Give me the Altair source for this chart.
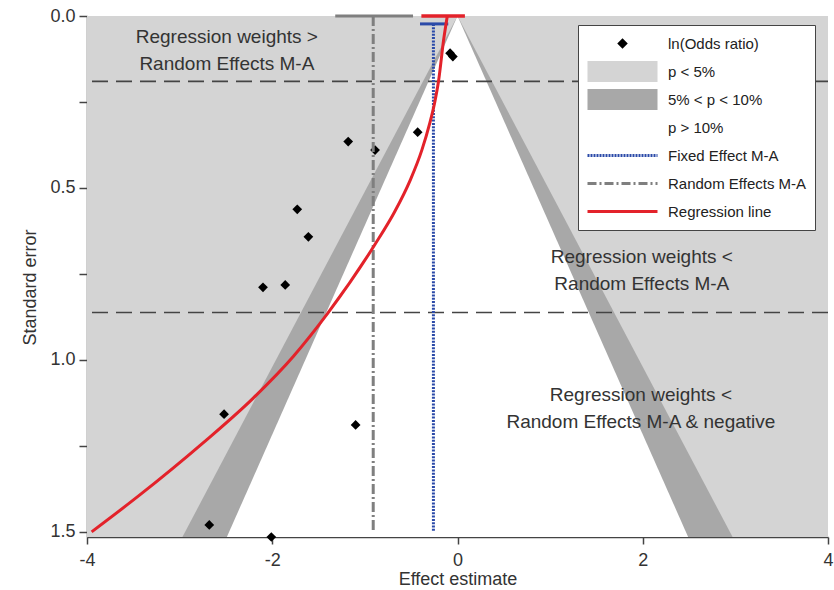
import altair as alt
import pandas as pd

# ---------------- data ----------------
x_domain = [-4, 4]
se_domain = [0, 1.515]
x_ticks = [-4, -2, 0, 2, 4]
se_ticks = [0, 0.25, 0.5, 0.75, 1.0, 1.25, 1.5]

# contour bounds of the funnel (half-widths at the top and bottom SE)
funnel_se = [0.0, 1.515]
half_p10 = [0.0, 2.49]
half_p05 = [0.0, 2.97]

# individual studies
study_effect = [-0.08, -0.05, -0.43, -1.18, -0.89, -1.73, -1.61, -1.86, -2.10, -2.52, -1.10, -2.68, -2.01]
study_se = [0.108, 0.118, 0.338, 0.365, 0.390, 0.562, 0.642, 0.782, 0.789, 1.158, 1.189, 1.480, 1.515]

# pooled estimates
fe_est = -0.26
fe_ci = [-0.405, -0.10]
fe_se_top = 0.023
re_est = -0.91
re_ci = [-1.32, -0.48]
reg_ci = [-0.39, 0.08]
line_bottom = 1.5

# regression line
reg_se = [0.0, 0.07, 0.19, 0.25, 0.312, 0.39, 0.477, 0.57, 0.666, 0.864, 0.99, 1.111, 1.242, 1.397, 1.5]
reg_effect = [-0.11, -0.15, -0.205, -0.245, -0.30, -0.385, -0.51, -0.68, -0.895, -1.40, -1.773, -2.205, -2.75, -3.45, -3.95]

# horizontal cut lines
cut_se = [0.19, 0.862]

# annotations (position of the first line of each note)
note_text = ["Regression weights >\nRandom Effects M-A",
             "Regression weights <\nRandom Effects M-A",
             "Regression weights <\nRandom Effects M-A & negative"]
note_x = [-2.49, 1.99, 1.98]
note_se = [0.061, 0.700, 1.102]

legend_labels = ["ln(Odds ratio)", "p < 5%", "5% < p < 10%", "p > 10%",
                 "Fixed Effect M-A", "Random Effects M-A", "Regression line"]

# ---------------- styles ----------------
LIGHT = "#d4d4d4"
DARK = "#a8a8a8"
BLUE = "#2b4aa8"
GRAY = "#7f7f7f"
RED = "#e3222a"
FONT = "Liberation Sans"
TXT = "#333333"

xs = alt.Scale(domain=x_domain, nice=False, zero=False)
ys = alt.Scale(domain=se_domain, reverse=True, nice=False, zero=False)

x_axis = alt.Axis(values=x_ticks, labelExpr="'' + datum.value", tickSize=7, tickWidth=1.5,
                  domainWidth=1.5, domainColor="#444", tickColor="#444",
                  labelFontSize=18, labelFont=FONT, labelColor=TXT, labelPadding=7,
                  labelFlush=False, titleFontSize=18, titleFont=FONT, titleColor=TXT,
                  titleFontWeight="normal", titleY=42, titleBaseline="middle", grid=False)
y_axis = alt.Axis(values=se_ticks,
                  labelExpr="datum.value % 0.5 == 0 ? format(datum.value, '.1f') : ''",
                  tickSize=8, tickWidth=1.5, domainWidth=1.5, domainColor="#444", tickColor="#444",
                  labelFontSize=18, labelFont=FONT, labelColor=TXT, labelPadding=4,
                  labelFlush=False, titleFontSize=18, titleFont=FONT, titleColor=TXT,
                  titleFontWeight="normal", titleX=-57, titleY=271, titleBaseline="middle", grid=False)


def X(f):
    return alt.X(f, type="quantitative", scale=xs, axis=x_axis, title="Effect estimate")


def Y(f):
    return alt.Y(f, type="quantitative", scale=ys, axis=y_axis, title="Standard error")


bg_df = pd.DataFrame({"x": [x_domain[0]], "x2": [x_domain[1]], "y": [se_domain[0]], "y2": [se_domain[1]]})
bg = alt.Chart(bg_df).mark_rect(color=LIGHT).encode(x=X("x"), x2="x2", y=Y("y"), y2="y2")

f05 = pd.DataFrame({"se": funnel_se, "lo": [-v for v in half_p05], "hi": half_p05})
f10 = pd.DataFrame({"se": funnel_se, "lo": [-v for v in half_p10], "hi": half_p10})
dark = alt.Chart(f05).mark_area(orient="horizontal", color=DARK).encode(y=Y("se"), x=X("lo"), x2="hi")
white = alt.Chart(f10).mark_area(orient="horizontal", color="white").encode(y=Y("se"), x=X("lo"), x2="hi")

cuts = alt.Chart(pd.DataFrame({"se": cut_se})).mark_rule(
    color="#444", strokeWidth=1.6, strokeDash=[16, 8]).encode(y=Y("se"))

notes = alt.Chart(pd.DataFrame({"t": note_text, "x": note_x, "se": note_se})).mark_text(
    lineBreak="\n", lineHeight=27, fontSize=19, font=FONT, color=TXT,
    align="center", baseline="middle").encode(x=X("x"), y=Y("se"), text="t:N")

pts = alt.Chart(pd.DataFrame({"x": study_effect, "se": study_se})).mark_point(
    shape="diamond", filled=True, color="black", size=95, opacity=1).encode(x=X("x"), y=Y("se"))

re_v = alt.Chart(pd.DataFrame({"x": [re_est], "y": [0.0], "y2": [line_bottom]})).mark_rule(
    color=GRAY, strokeWidth=3, strokeDash=[10, 3, 2, 3]).encode(x=X("x"), y=Y("y"), y2="y2")
re_c = alt.Chart(pd.DataFrame({"x": [re_ci[0]], "x2": [re_ci[1]], "y": [0.0]})).mark_rule(
    color=GRAY, strokeWidth=3).encode(x=X("x"), x2="x2", y=Y("y"))

fe_v = alt.Chart(pd.DataFrame({"x": [fe_est], "y": [fe_se_top], "y2": [line_bottom]})).mark_rule(
    color=BLUE, strokeWidth=3, strokeDash=[2, 1.3]).encode(x=X("x"), y=Y("y"), y2="y2")
fe_c = alt.Chart(pd.DataFrame({"x": [fe_ci[0]], "x2": [fe_ci[1]], "y": [fe_se_top]})).mark_rule(
    color=BLUE, strokeWidth=3).encode(x=X("x"), x2="x2", y=Y("y"))

reg_c = alt.Chart(pd.DataFrame({"x": [reg_ci[0]], "x2": [reg_ci[1]], "y": [0.0]})).mark_rule(
    color=RED, strokeWidth=3.5).encode(x=X("x"), x2="x2", y=Y("y"))
reg_l = alt.Chart(pd.DataFrame({"x": reg_effect, "se": reg_se})).mark_line(
    color=RED, strokeWidth=3, interpolate="monotone").encode(x=X("x"), y=Y("se"), order="se:Q")

# ---------------- legend ----------------
diamond_path = "M0,-0.15L0.15,0L0,0.15L-0.15,0Z"
rect_path = "M-1,-0.3H1V0.3H-1Z"
line_path = "M-1,0H1"
legend_fill = ["black", LIGHT, DARK, "white", "transparent", "transparent", "transparent"]
legend_stroke = ["transparent", "transparent", "transparent", "transparent", BLUE, GRAY, RED]
legend_shape = [diamond_path, rect_path, rect_path, rect_path, line_path, line_path, line_path]
legend_dash = [[1, 0], [1, 0], [1, 0], [1, 0], [2, 1], [9, 3, 2, 3], [1, 0]]


def lg():
    return alt.Legend(title=None, orient="none", legendX=491, legendY=9,
                      symbolSize=4900, symbolStrokeWidth=3, clipHeight=21, rowPadding=7,
                      padding=8, labelOffset=9, labelFontSize=15, labelFont=FONT,
                      labelColor="#222", strokeColor="#444", fillColor="white",
                      symbolOpacity=1, symbolFillColor="transparent",
                      symbolStrokeColor="transparent", labelLimit=300, cornerRadius=0)


legend_layer = alt.Chart(pd.DataFrame({"item": legend_labels})).mark_point(
    opacity=0, filled=True).encode(
    x=alt.value(0), y=alt.value(0),
    fill=alt.Fill("item:N", scale=alt.Scale(domain=legend_labels, range=legend_fill), legend=lg()),
    stroke=alt.Stroke("item:N", scale=alt.Scale(domain=legend_labels, range=legend_stroke), legend=lg()),
    shape=alt.Shape("item:N", scale=alt.Scale(domain=legend_labels, range=legend_shape), legend=lg()),
    strokeDash=alt.StrokeDash("item:N", scale=alt.Scale(domain=legend_labels, range=legend_dash), legend=lg()),
)

chart = alt.layer(
    bg, dark, white, cuts, notes, pts, re_v, re_c, fe_v, fe_c, reg_c, reg_l, legend_layer
).properties(
    width=741, height=521,
    autosize=alt.AutoSizeParams(type="none"),
    padding={"left": 87, "top": 16, "right": 6, "bottom": 53},
    background="white",
).configure_view(stroke=None)

chart.save("out.html", embed_options={"renderer": "svg", "actions": False})
